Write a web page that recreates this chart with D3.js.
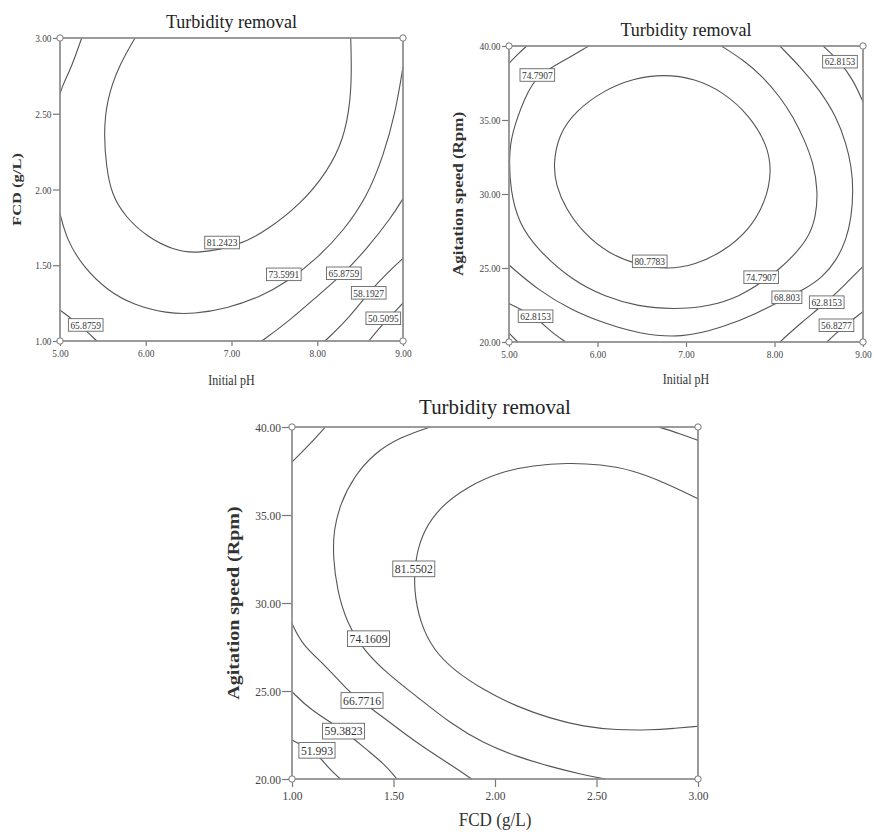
<!DOCTYPE html>
<html>
<head>
<meta charset="utf-8">
<script src="https://cdn.jsdelivr.net/npm/d3@7"></script>
<style>
  body { margin: 0; background: #fff; }
  svg { font-family: "Liberation Serif", "Times New Roman", serif; }
  .frame { fill: none; stroke: #8a8a8a; stroke-width: 1.7; }
  .contour { fill: none; stroke: #555; stroke-width: 1.1; }
  .tick line { stroke: #777; stroke-width: 1.2; }
  .tick text { fill: #444; }
  .lbl rect { fill: #fff; stroke: #666; stroke-width: 0.9; }
  .lbl text { fill: #333; }
</style>
</head>
<body>
<svg id="chart" width="874" height="834"></svg>
<script>
// axis ticks
const phTicks = [5, 6, 7, 8, 9];
const fcdTicks = [1, 1.5, 2, 2.5, 3];
const speedTicks = [20, 25, 30, 35, 40];

// --- panel 1 : Initial pH vs FCD, contours
const pf_81 = [[5.875,3.0],[5.68,2.81],[5.545,2.59],[5.51,2.37],[5.54,2.15],[5.60,1.97],[5.76,1.82],[6.01,1.69],[6.32,1.60],[6.60,1.574],[7.10,1.633],[7.41,1.73],[7.80,1.90],[8.11,2.11],[8.31,2.33],[8.39,2.59],[8.40,2.81],[8.39,3.0]];
const pf_73 = [[5.0,1.84],[5.08,1.666],[5.27,1.49],[5.545,1.336],[5.86,1.237],[6.245,1.182],[6.56,1.178],[6.95,1.215],[7.33,1.29],[7.65,1.39],[8.0,1.545],[8.31,1.73],[8.58,1.95],[8.77,2.22],[8.91,2.50],[9.0,2.81]];
const pf_73b = [[5.253,3.0],[5.136,2.81],[5.04,2.70],[5.0,2.633]];
const pf_65 = [[7.354,1.0],[7.685,1.138],[8.035,1.314],[8.31,1.446],[8.58,1.61],[8.87,1.82],[9.0,1.94]];
const pf_65b = [[5.0,1.204],[5.156,1.138],[5.30,1.07],[5.43,1.0]];
const pf_58 = [[8.09,1.0],[8.35,1.138],[8.6,1.32],[8.81,1.446],[9.0,1.545]];
const pf_50 = [[8.6,1.0],[8.77,1.116],[9.0,1.25]];
const pfLabels = [["81.2423",6.89,1.65],["73.5991",7.61,1.44],["65.8759",8.31,1.447],["58.1927",8.60,1.318],["50.5095",8.77,1.15],["65.8759",5.30,1.106]];

// --- panel 2 : Initial pH vs agitation speed
const ps_80 = [[5.50,32.0],[5.56,34.0],[5.75,35.6],[6.07,37.0],[6.40,37.8],[6.75,38.1],[7.10,37.8],[7.42,36.9],[7.72,35.3],[7.92,33.3],[7.97,31.5],[7.90,29.5],[7.72,27.6],[7.42,26.1],[7.10,25.2],[6.80,24.9],[6.45,25.2],[6.12,26.0],[5.85,27.3],[5.64,29.0],[5.53,30.6]];
const ps_74 = [[5.90,40],[5.6,38.94],[5.32,38.04],[5.18,36.57],[5.03,34.1],[5.0,32.5],[5.015,30.26],[5.11,28.0],[5.33,26.2],[5.71,24.17],[6.09,23.04],[6.46,22.4],[6.85,22.2],[7.27,22.4],[7.61,23.1],[7.85,24.0],[8.07,25.0],[8.21,25.8],[8.38,27.0],[8.47,28.45],[8.49,30.26],[8.44,32.07],[8.34,33.64],[8.21,35.22],[8.06,36.57],[7.87,37.92],[7.65,39.05],[7.40,40]];
const ps_68 = [[5.0,25.2],[5.33,23.5],[5.71,22.14],[6.09,21.24],[6.46,20.57],[6.95,20.25],[7.42,21.0],[7.80,21.92],[8.14,23.0],[8.32,23.5],[8.55,24.4],[8.70,25.53],[8.81,26.88],[8.87,28.45],[8.89,30.26],[8.87,31.84],[8.81,33.42],[8.70,35.22],[8.51,37.02],[8.29,38.6],[8.06,40]];
const ps_68b = [[5.20,40],[5.09,39.4],[5.0,38.83]];
const ps_62a = [[8.55,40],[8.74,38.94],[8.89,37.7],[9.0,36.23]];
const ps_62b = [[5.0,22.6],[5.30,21.74],[5.45,20.8],[5.64,20.0]];
const ps_62c = [[8.06,20.0],[8.3,21.3],[8.59,22.7],[8.8,23.9],[9.0,25.1]];
const ps_56 = [[8.59,20.0],[8.75,20.9],[9.0,22.05]];
const ps_56b = [[5.0,20.6],[5.1,20.0]];
const psLabels = [["74.7907",5.32,38.04],["62.8153",8.74,38.94],["80.7783",6.59,25.45],["74.7907",7.85,24.38],["68.803",8.14,23.02],["62.8153",8.59,22.69],["56.8277",8.70,21.13],["62.8153",5.30,21.74]];

// --- panel 3 : FCD vs agitation speed
const fs_81 = [[3.0,35.93],[2.847,36.78],[2.683,37.54],[2.519,37.88],[2.355,37.96],[2.19,37.82],[2.026,37.45],[1.862,36.6],[1.73,35.46],[1.649,34.13],[1.608,32.62],[1.599,30.73],[1.632,28.84],[1.698,27.32],[1.796,26.19],[1.944,25.05],[2.108,24.11],[2.273,23.44],[2.437,22.97],[2.6,22.78],[2.765,22.78],[2.88,22.87],[3.0,23.0]];
const fs_74 = [[1.681,40],[1.534,39.43],[1.402,38.49],[1.304,37.16],[1.238,35.65],[1.205,34.13],[1.202,32.62],[1.222,30.73],[1.271,28.84],[1.353,27.32],[1.468,26.0],[1.616,24.67],[1.78,23.16],[1.944,22.02],[2.108,21.27],[2.273,20.70],[2.437,20.23],[2.543,20.0]];
const fs_74b = [[1.164,40],[1.09,39.05],[1.025,38.3],[1.0,38.01]];
const fs_74c = [[2.806,40],[2.913,39.62],[3.0,39.24]];
const fs_66 = [[1.0,28.84],[1.05,27.6],[1.172,26.38],[1.271,25.05],[1.36,24.25],[1.468,23.35],[1.616,22.03],[1.796,20.7],[1.885,20.0]];
const fs_59 = [[1.0,24.96],[1.09,23.92],[1.254,22.78],[1.369,21.65],[1.451,20.89],[1.517,20.0]];
const fs_51 = [[1.0,22.21],[1.123,21.49],[1.172,20.7],[1.238,20.0]];
const fsLabels = [["81.5502",1.60,31.96],["74.1609",1.377,27.99],["66.7716",1.345,24.48],["59.3823",1.254,22.74],["51.993",1.123,21.65]];

const svg = d3.select("#chart");
const fmt = d3.format(".2f");

function drawPanel(o) {
	const g = svg.append("g");
	const x = d3.scaleLinear().domain(o.xDomain).range([o.left, o.right]);
	const y = d3.scaleLinear().domain(o.yDomain).range([o.bottom, o.top]);

	// axes (the scan is squeezed sideways, so text gets a scaleX)
	const xa = g.append("g")
		.attr("transform", "translate(0," + o.bottom + ")")
		.call(d3.axisBottom(x).tickValues(o.xTicks).tickFormat(fmt).tickSize(o.tickLen - 2).tickPadding(3).tickSizeOuter(0));
	xa.attr("font-family", null).select(".domain").remove();
	xa.selectAll("text").attr("font-size", o.tickFont).attr("transform", "scale(0.85,1)");

	const ya = g.append("g")
		.attr("transform", "translate(" + o.left + ",0)")
		.call(d3.axisLeft(y).tickValues(o.yTicks).tickFormat(fmt).tickSize(o.tickLen).tickPadding(3).tickSizeOuter(0));
	ya.attr("font-family", null).select(".domain").remove();
	ya.selectAll("text").attr("font-size", o.tickFont).attr("transform", "scale(0.85,1)");

	// contour lines
	const line = d3.line()
		.x(d => x(d[0]))
		.y(d => y(d[1]))
		.curve(d3.curveBasis);
	const lineClosed = d3.line()
		.x(d => x(d[0]))
		.y(d => y(d[1]))
		.curve(d3.curveBasisClosed);

	g.selectAll(".contour")
		.data(o.lines)
		.enter()
		.append("path")
		.classed("contour", true)
		.attr("d", d => (o.closed.indexOf(d) >= 0 ? lineClosed : line)(d));

	// frame
	g.append("rect")
		.classed("frame", true)
		.attr("x", o.left).attr("y", o.top)
		.attr("width", o.right - o.left).attr("height", o.bottom - o.top);

	// corner points
	const corners = [];
	o.xDomain.forEach(a => o.yDomain.forEach(b => corners.push([a, b])));
	g.selectAll(".corner")
		.data(corners)
		.enter()
		.append("circle")
		.attr("cx", d => x(d[0]))
		.attr("cy", d => y(d[1]))
		.attr("r", 3.2)
		.attr("fill", "#fff")
		.attr("stroke", "#777")
		.attr("stroke-width", 1);

	// contour value labels
	const lbl = g.selectAll(".lbl")
		.data(o.labels)
		.enter()
		.append("g")
		.classed("lbl", true)
		.attr("transform", d => "translate(" + x(d[1]) + "," + y(d[2]) + ")");
	lbl.append("text")
		.attr("text-anchor", "middle")
		.attr("dy", "0.35em")
		.attr("transform", "scale(0.9,1)")
		.style("font-size", o.labelFont + "px")
		.text(d => d[0]);
	lbl.each(function() {
		const b = d3.select(this).select("text").node().getBBox();
		d3.select(this).insert("rect", "text")
			.attr("x", b.x * 0.9 - 2).attr("y", b.y - 0.5)
			.attr("width", b.width * 0.9 + 4).attr("height", b.height + 1);
	});

	// titles
	const cx = (o.left + o.right) / 2;
	g.append("text")
		.attr("transform", "translate(" + cx + "," + o.titleY + ") scale(0.95,1)")
		.attr("text-anchor", "middle")
		.style("font-size", o.titleFont + "px").attr("fill", "#222")
		.text("Turbidity removal");
	g.append("text")
		.attr("transform", "translate(" + cx + "," + o.xLabelY + ") scale(" + o.xLabelSqueeze + ",1)")
		.attr("text-anchor", "middle")
		.style("font-size", o.xLabelFont + "px").attr("fill", "#333")
		.text(o.xLabel);
	g.append("text")
		.attr("transform", "translate(" + o.yLabelX + "," + (o.top + o.bottom) / 2 + ") rotate(-90) scale(1,0.8)")
		.attr("text-anchor", "middle")
		.style("font-size", o.yLabelFont + "px").style("font-weight", "bold").attr("fill", "#333")
		.text(o.yLabel);
}

drawPanel({
	xDomain: [5, 9], yDomain: [1, 3], xTicks: phTicks, yTicks: fcdTicks,
	left: 60, right: 403, top: 38, bottom: 341,
	lines: [pf_81, pf_73, pf_73b, pf_65, pf_65b, pf_58, pf_50], closed: [],
	labels: pfLabels, labelFont: 10.5, tickFont: 11, tickLen: 7,
	titleY: 28, titleFont: 19, xLabel: "Initial pH", xLabelY: 385, xLabelFont: 15, xLabelSqueeze: 0.8,
	yLabel: "FCD (g/L)", yLabelX: 21, yLabelFont: 16.5
});

drawPanel({
	xDomain: [5, 9], yDomain: [20, 40], xTicks: phTicks, yTicks: speedTicks,
	left: 509, right: 863, top: 46, bottom: 342,
	lines: [ps_80, ps_74, ps_68, ps_68b, ps_62a, ps_62b, ps_62c, ps_56, ps_56b], closed: [ps_80],
	labels: psLabels, labelFont: 10.5, tickFont: 11, tickLen: 7,
	titleY: 36, titleFont: 19, xLabel: "Initial pH", xLabelY: 384, xLabelFont: 15, xLabelSqueeze: 0.8,
	yLabel: "Agitation speed (Rpm)", yLabelX: 463, yLabelFont: 17
});

drawPanel({
	xDomain: [1, 3], yDomain: [20, 40], xTicks: fcdTicks, yTicks: speedTicks,
	left: 292, right: 698, top: 427, bottom: 779,
	lines: [fs_81, fs_74, fs_74b, fs_74c, fs_66, fs_59, fs_51], closed: [],
	labels: fsLabels, labelFont: 13, tickFont: 13.5, tickLen: 10,
	titleY: 414, titleFont: 22, xLabel: "FCD (g/L)", xLabelY: 826, xLabelFont: 19, xLabelSqueeze: 0.9,
	yLabel: "Agitation speed (Rpm)", yLabelX: 239, yLabelFont: 20
});
</script>
</body>
</html>
